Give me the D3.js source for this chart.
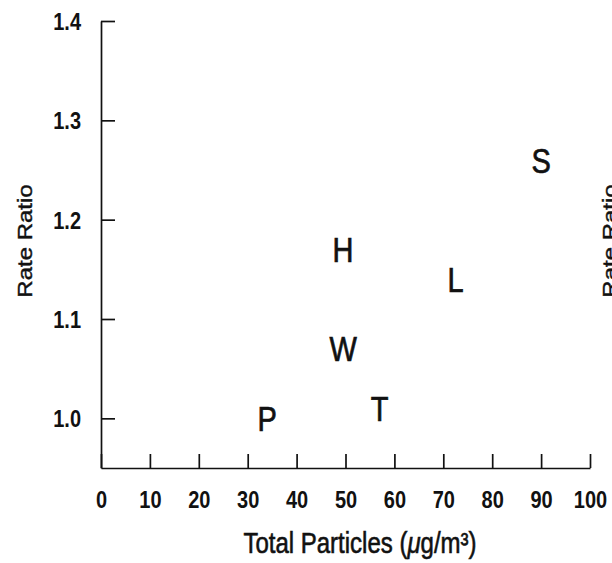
<!DOCTYPE html>
<html>
<head>
<meta charset="utf-8">
<script src="https://cdn.jsdelivr.net/npm/d3@7"></script>
<style>
  html, body { margin: 0; padding: 0; background: #fff; }
  svg { display: block; font-family: "Liberation Sans", Arial, Helvetica, sans-serif; }
</style>
</head>
<body>
<svg id="chart" width="612" height="563"></svg>
<script>
// Six-city scatter: rate ratio against mean total particle concentration
const cityCodes   = ["P", "W", "T", "H", "L", "S"];
const totalParticles = [34, 49.5, 57, 49.5, 72.5, 90];
const rateRatios  = [1.00, 1.07, 1.01, 1.17, 1.14, 1.26];

const xTicks = [0, 10, 20, 30, 40, 50, 60, 70, 80, 90, 100];
const yTicks = [1.0, 1.1, 1.2, 1.3, 1.4];

const xTitle = "Total Particles (";
const yTitle = "Rate Ratio";

// lettering is drawn slightly taller than wide
const sy = 1.2;
const ink = "#111";

const svg = d3.select("#chart");

const x = d3.scaleLinear().domain([0, 100]).range([101, 590]);
const y = d3.scaleLinear().domain([0.95, 1.4]).range([468, 21]);

// x axis with inward ticks
const gx = svg.append("g")
  .attr("transform", `translate(0,${y(0.95)})`)
  .call(d3.axisBottom(x).tickValues(xTicks).tickSizeInner(-14).tickSizeOuter(0).tickFormat(d3.format("d")));

gx.selectAll("text")
  .attr("y", 32 / sy)
  .attr("dy", "0.35em")
  .attr("transform", `scale(1,${sy})`);

// y axis with inward ticks
const gy = svg.append("g")
  .attr("transform", `translate(${x(0)},0)`)
  .call(d3.axisLeft(y).tickValues(yTicks).tickSizeInner(-14).tickSizeOuter(0).tickFormat(d3.format(".1f")));

gy.selectAll("text")
  .attr("x", -20)
  .attr("dy", "0.35em")
  .attr("transform", `scale(1,${sy})`)
  .attr("y", 0);

[gx, gy].forEach(g => {
  g.selectAll("path, line").attr("stroke", ink).attr("stroke-width", 1.7);
  g.selectAll("text")
    .attr("fill", ink)
    .attr("font-size", 20)
    .attr("font-weight", "bold")
    .attr("font-family", "'Liberation Sans', Arial, sans-serif");
});

// city letters placed at their data points
svg.append("g")
  .selectAll("text")
  .data(cityCodes.map((c, i) => ({ c, px: totalParticles[i], rr: rateRatios[i] })))
  .join("text")
  .attr("transform", d => `translate(${x(d.px)},${y(d.rr)}) scale(1,${sy})`)
  .attr("text-anchor", "middle")
  .attr("dy", "0.36em")
  .attr("font-size", 29)
  .attr("fill", ink)
  .attr("stroke", ink)
  .attr("stroke-width", 0.6)
  .text(d => d.c);

// x axis title
const xt = svg.append("text")
  .attr("transform", `translate(360,553) scale(1,${sy})`)
  .attr("text-anchor", "middle")
  .attr("font-size", 24)
  .attr("fill", ink)
  .attr("stroke", ink)
  .attr("stroke-width", 0.5);
xt.append("tspan").text(xTitle);
xt.append("tspan").attr("font-style", "italic").text("\u03bc");
xt.append("tspan").text("g/m\u00b3)");

// y axis title
svg.append("text")
  .attr("transform", `translate(32,241) scale(1,${sy}) rotate(-90)`)
  .attr("text-anchor", "middle")
  .attr("font-size", 20)
  .attr("fill", ink)
  .attr("stroke", ink)
  .attr("stroke-width", 0.4)
  .text(yTitle);

// y title of the neighbouring panel, running off the right edge
svg.append("text")
  .attr("transform", `translate(617,241) scale(1,${sy}) rotate(-90)`)
  .attr("text-anchor", "middle")
  .attr("font-size", 20)
  .attr("fill", ink)
  .attr("stroke", ink)
  .attr("stroke-width", 0.4)
  .text(yTitle);
</script>
</body>
</html>
